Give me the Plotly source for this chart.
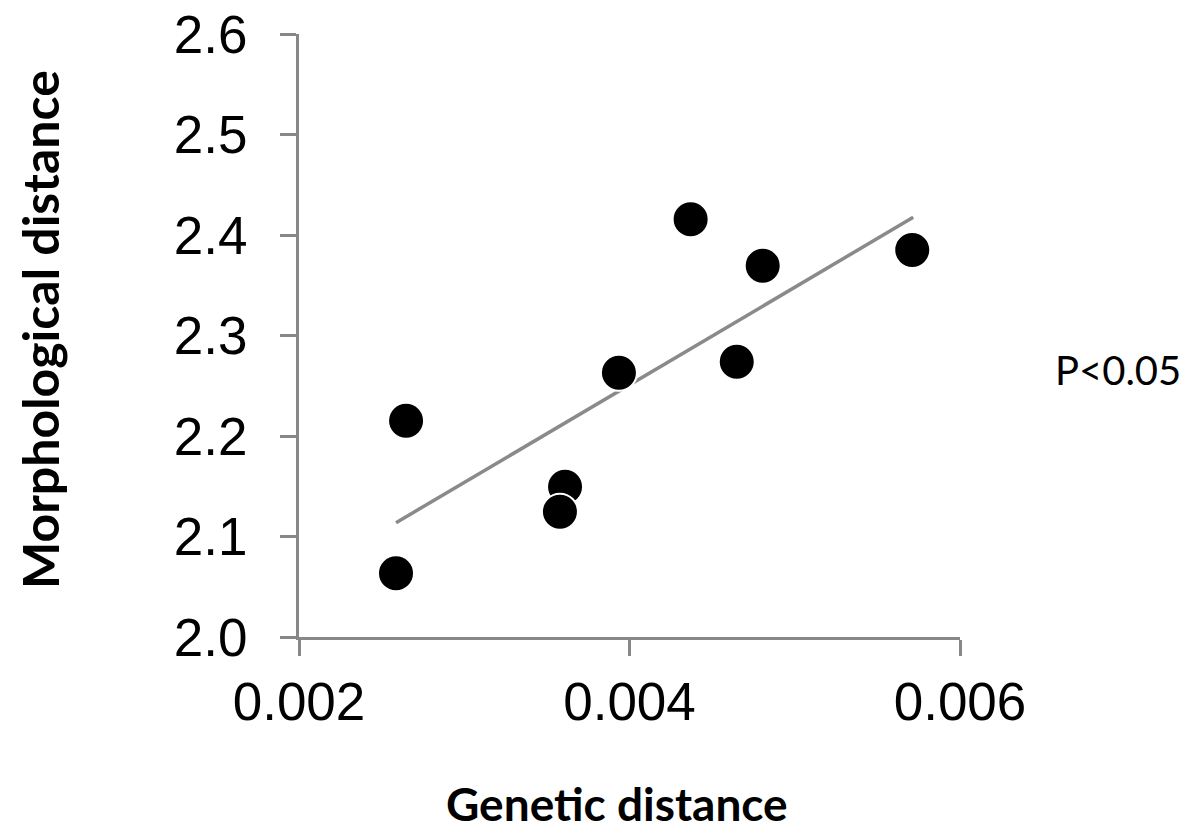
import plotly.graph_objects as go

genetic = [0.002587, 0.002648, 0.003610, 0.003579, 0.003936, 0.004370, 0.004649, 0.004806, 0.005711]
morph = [2.0634, 2.2152, 2.1496, 2.1247, 2.2630, 2.4156, 2.2739, 2.3695, 2.3851]
trend_x = [0.002587, 0.005717]
trend_y = [2.1137, 2.4176]
x_ticks = [0.002, 0.004, 0.006]
x_tick_labels = ["0.002", "0.004", "0.006"]
y_ticks = [2.0, 2.1, 2.2, 2.3, 2.4, 2.5, 2.6]
y_tick_labels = ["2.0", "2.1", "2.2", "2.3", "2.4", "2.5", "2.6"]

axis_color = "#888888"

PLOT_L, PLOT_T, PLOT_W, PLOT_H = 299, 34, 661, 603
FIG_W, FIG_H = 1189, 834

fig = go.Figure()
fig.add_trace(go.Scatter(x=trend_x, y=trend_y, mode="lines",
                         line=dict(color="#8a8a8a", width=3.5), showlegend=False))
fig.add_trace(go.Scatter(x=genetic, y=morph, mode="markers",
                         marker=dict(color="black", size=36, line=dict(color="white", width=2)),
                         showlegend=False))

fig.update_layout(
    width=FIG_W, height=FIG_H,
    margin=dict(l=PLOT_L, r=FIG_W - PLOT_L - PLOT_W,
                t=PLOT_T, b=FIG_H - PLOT_T - PLOT_H, autoexpand=False),
    plot_bgcolor="white", paper_bgcolor="white",
    font=dict(family="Liberation Sans, Arial", color="black"),
    xaxis=dict(range=[0.002, 0.006], tickvals=x_ticks, ticktext=x_tick_labels,
               showgrid=False, zeroline=False, showline=True, linecolor=axis_color, linewidth=3,
               ticks="outside", ticklen=16, tickwidth=3, tickcolor=axis_color,
               tickfont=dict(size=53, family="Liberation Sans, Arial", color="black"),
               ticklabelstandoff=0, ticklabeloverflow="allow", automargin=False),
    yaxis=dict(range=[2.0, 2.6], tickvals=y_ticks, ticktext=y_tick_labels,
               showgrid=False, zeroline=False, showline=True, linecolor=axis_color, linewidth=3,
               ticks="outside", ticklen=16, tickwidth=3, tickcolor=axis_color,
               tickfont=dict(size=53, family="Liberation Sans, Arial", color="black"),
               ticklabelstandoff=22, ticklabeloverflow="allow", automargin=False),
)

def px_x(sx):
    return (sx - PLOT_L) / PLOT_W

def px_y(sy):
    return (PLOT_T + PLOT_H - sy) / PLOT_H

fig.add_annotation(text="<b>Morphological distance</b>", xref="paper", yref="paper",
                   x=px_x(40), y=px_y(330), textangle=-90, showarrow=False,
                   xanchor="center", yanchor="middle",
                   font=dict(family="Lato", size=50, color="black"))
fig.add_annotation(text="<b>Genetic distance</b>", xref="paper", yref="paper",
                   x=px_x(617), y=px_y(803), showarrow=False,
                   xanchor="center", yanchor="middle",
                   font=dict(family="Lato", size=46, color="black"))
fig.add_annotation(text="P<0.05", xref="paper", yref="paper",
                   x=px_x(1118), y=px_y(370), showarrow=False,
                   xanchor="center", yanchor="middle",
                   font=dict(family="Lato", size=40, color="black"))

fig.write_html("out.html", config={"displayModeBar": False},
               post_script="document.body.style.margin='0px';")
